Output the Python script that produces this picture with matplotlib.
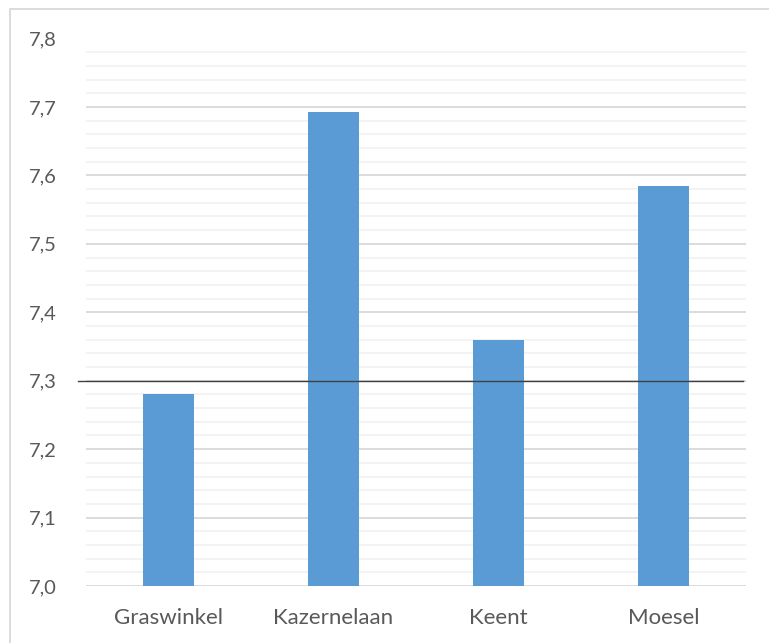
import numpy as np
import matplotlib
matplotlib.use("Agg")
import matplotlib.pyplot as plt
from matplotlib.patches import Rectangle
from matplotlib.ticker import MultipleLocator, FuncFormatter

locations = ["Graswinkel", "Kazernelaan", "Keent", "Moesel"]
scores = [7.281, 7.692, 7.360, 7.585]
reference_level = 7.3

BAR = "#5B9BD5"
TEXT = "#595959"
MAJOR = "#D9D9D9"
MINOR = "#F2F2F2"

plt.rcParams["font.family"] = ["Lato", "DejaVu Sans"]

W, H = 769, 643
fig = plt.figure(figsize=(W / 100, H / 100), dpi=100)
ax = fig.add_axes([86 / W, 1 - 586 / H, 660 / W, (586 - 38.5) / H])

x = np.arange(len(locations))
ax.bar(x, np.array(scores) - 7.0, bottom=7.0, width=0.315, color=BAR, zorder=3)

ax.set_xlim(-0.5, len(locations) - 0.5)
ax.set_ylim(7.0, 7.8)
ax.yaxis.set_major_locator(MultipleLocator(0.1))
ax.yaxis.set_minor_locator(MultipleLocator(0.02))
ax.yaxis.set_major_formatter(FuncFormatter(lambda v, _: f"{v:.1f}".replace(".", ",")))
ax.grid(axis="y", which="minor", color=MINOR, lw=1.3, zorder=0)
ax.grid(axis="y", which="major", color=MAJOR, lw=1.3, zorder=1)

ax.set_xticks(x)
ax.set_xticklabels(locations)
ax.tick_params(axis="both", which="both", length=0, colors=TEXT)
ax.tick_params(axis="y", pad=21, labelsize=14.5)
ax.tick_params(axis="x", pad=16, labelsize=16)
for s in ax.spines.values():
    s.set_visible(False)

# dark reference line across the plot
ax.axhline(reference_level, xmin=-0.012, xmax=0.995, color="#404040", lw=1.0,
           zorder=4, clip_on=False)

# chart frame
fig.add_artist(Rectangle((10 / W, -0.1), 1.2, 1.1 - 9 / H, transform=fig.transFigure,
                         fill=False, edgecolor="#D9D9D9", lw=1.3))

fig.savefig("out.png", dpi=100, facecolor="white")
